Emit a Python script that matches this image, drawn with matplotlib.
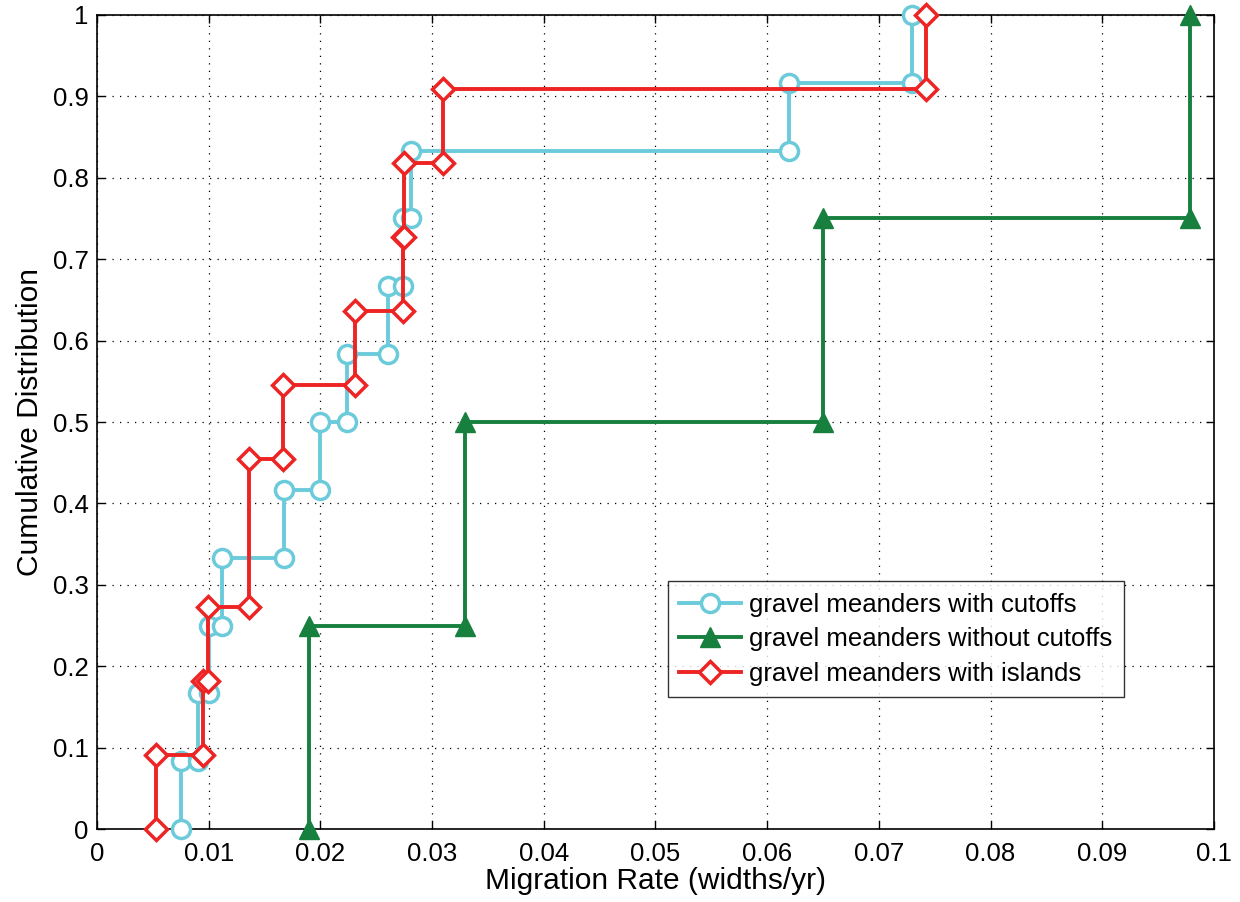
import numpy as np
import matplotlib
matplotlib.use("Agg")
import matplotlib.pyplot as plt

plt.rcParams['font.family'] = ['Liberation Sans', 'DejaVu Sans']

# Migration rates (widths/yr)
cutoffs = [0.00749, 0.00907, 0.01003, 0.01119, 0.01674, 0.01996,
           0.02238, 0.02603, 0.02739, 0.02811, 0.06195, 0.07296]
no_cutoffs = [0.01898, 0.03295, 0.06500, 0.09785]
islands = [0.00528, 0.00949, 0.00994, 0.01361, 0.01361, 0.01665,
           0.02310, 0.02739, 0.02748, 0.03098, 0.07422]

labels = ["gravel meanders with cutoffs",
          "gravel meanders without cutoffs",
          "gravel meanders with islands"]
colors = ["#6ccbdb", "#17803f", "#ee2424"]
markers = ["o", "^", "D"]
xticks = np.arange(0, 0.1001, 0.01)
yticks = np.arange(0, 1.001, 0.1)


def ecdf_steps(vals):
    vals = np.sort(np.asarray(vals))
    u, counts = np.unique(vals, return_counts=True)
    F = np.cumsum(counts) / len(vals)
    xs, ys = [], []
    prev = 0.0
    for xi, fi in zip(u, F):
        xs += [xi, xi]
        ys += [prev, fi]
        prev = fi
    return xs, ys


fig = plt.figure(figsize=(12.4, 9.02), dpi=100)
ax = fig.add_axes([0.0782, 0.0809, 0.9008, 0.9025])

for data, lab, c, m in zip([cutoffs, no_cutoffs, islands], labels, colors, markers):
    xs, ys = ecdf_steps(data)
    if m == "^":
        ax.plot(xs, ys, color=c, lw=2.8, marker=m, ms=14, mfc=c, mec=c,
                label=lab, clip_on=False, zorder=3)
    elif m == "D":
        ax.plot(xs, ys, color=c, lw=2.8, marker=m, ms=11, mfc="white", mec=c,
                mew=2.5, label=lab, clip_on=False, zorder=4)
    else:
        ax.plot(xs, ys, color=c, lw=2.8, marker=m, ms=13, mfc="white", mec=c,
                mew=2.5, label=lab, clip_on=False, zorder=3)

ax.set_xlim(0, 0.1)
ax.set_ylim(0, 1)
ax.set_xticks(xticks)
ax.set_yticks(yticks)
ax.set_xticklabels(["0"] + ["%g" % v for v in xticks[1:]])
ax.set_yticklabels(["0"] + ["%g" % round(v, 1) for v in yticks[1:]])
ax.tick_params(direction="in", length=6, width=1, labelsize=18.5,
               top=True, right=True)
ax.tick_params(axis="x", pad=9)
ax.tick_params(axis="y", pad=6)
ax.grid(True, color="black", linestyle=(0, (1, 5)), linewidth=0.9)
for s in ax.spines.values():
    s.set_linewidth(1.2)

ax.set_xlabel("Migration Rate (widths/yr)", fontsize=21.5, labelpad=1)
ax.set_ylabel("Cumulative Distribution", fontsize=21.5, labelpad=6)

leg = ax.legend(loc="lower left", bbox_to_anchor=(0.511, 0.162), fontsize=18.5,
                frameon=True, fancybox=False, edgecolor="black",
                handlelength=2.4, borderpad=0.45, labelspacing=0.4,
                handletextpad=0.3, borderaxespad=0)
leg.get_frame().set_linewidth(1.0)

fig.savefig("out.png", dpi=100)
